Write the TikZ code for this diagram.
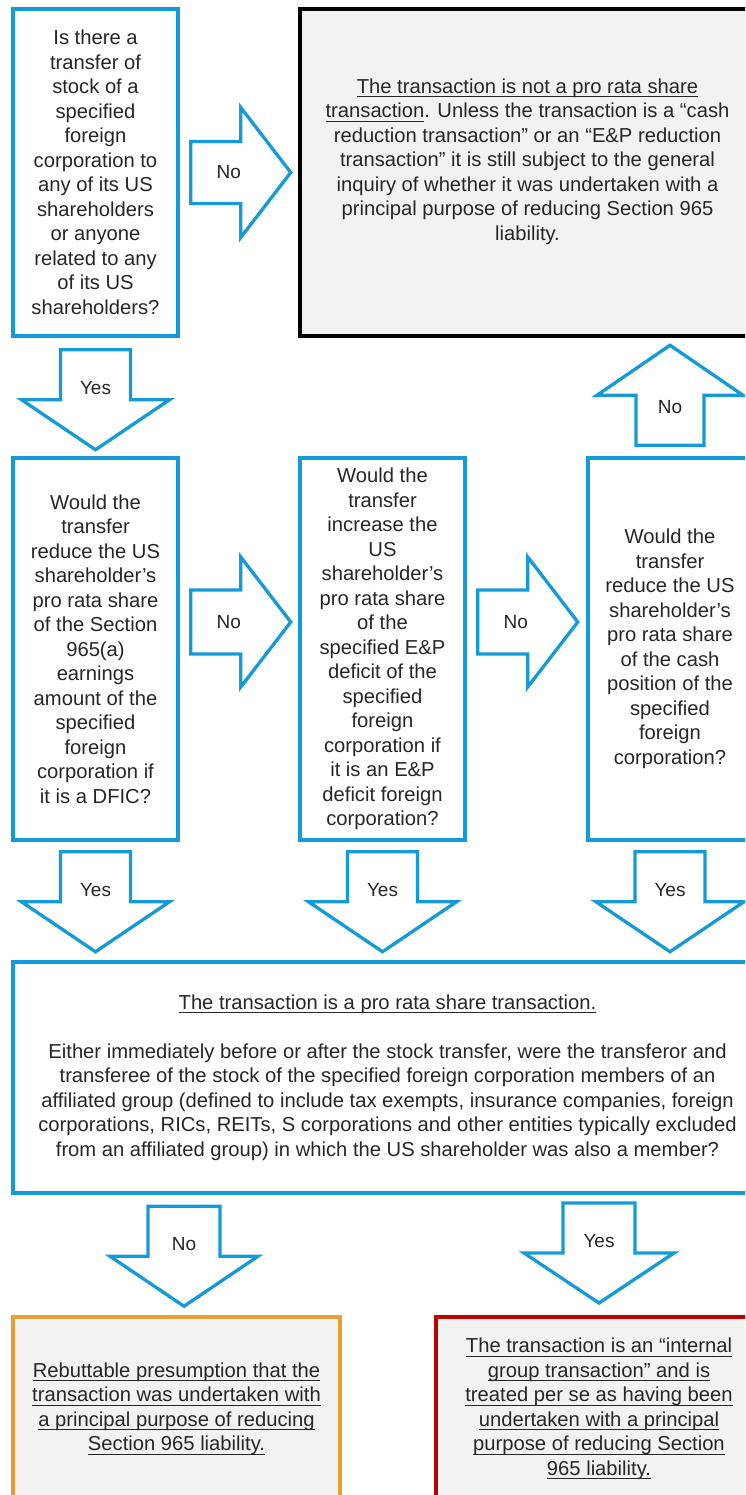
\documentclass[tikz,border=0pt]{standalone}
\usepackage{fontspec}
\setmainfont{Liberation Sans}
\usetikzlibrary{calc}

\definecolor{flowblue}{RGB}{20,155,215}
\definecolor{boxgray}{RGB}{242,242,242}
\definecolor{inkgray}{RGB}{38,38,38}
\definecolor{amber}{RGB}{230,160,50}
\definecolor{darkred}{RGB}{192,0,0}

% underline set just below the baseline, crossing the descenders
\newsavebox{\ulinebox}
\newcommand{\uln}[1]{\sbox{\ulinebox}{#1}\rlap{\rule[-4pt]{\wd\ulinebox}{1pt}}\usebox{\ulinebox}}

\newcommand{\bodyfont}{\fontsize{20.2}{24.5}\selectfont}
\newcommand{\tagfont}{\fontsize{19}{22}\selectfont}

% block arrow: name, start point, direction angle, half tail width, half head width, label
\newcommand{\flowarrow}[6]{%
  \begin{scope}[shift={#2},rotate=#3]
    \draw[arrowline] (0,-#4) -- (50,-#4) -- (50,-#5) -- (100,0) -- (50,#5) -- (50,#4) -- (0,#4) -- cycle;
    \node[arrowlabel] (#1) at (38,0) {#6};
  \end{scope}}

\tikzset{
  qbox/.style={draw=flowblue, line width=3.5pt, fill=white, align=center,
    inner sep=0pt, text=inkgray, font=\bodyfont},
  outbox/.style={line width=3.5pt, fill=boxgray, align=center,
    inner sep=0pt, text=inkgray, font=\bodyfont},
  plaintext/.style={align=center, inner sep=0pt, text=inkgray, font=\bodyfont},
  arrowline/.style={draw=flowblue, line width=3.3pt, fill=white, miter limit=10},
  arrowlabel/.style={inner sep=0pt, text=inkgray, font=\tagfont},
}

\begin{document}
\begin{tikzpicture}[x=1pt,y=-1pt]
\useasboundingbox (0,0) rectangle (745,1495);
\clip (0,0) rectangle (745,1495);

% first question and the negative outcome
\node[qbox, minimum width=165, minimum height=327] (q1) at (95.5,172.5)
  {Is there a\\transfer of\\stock of a\\specified\\foreign\\corporation to\\any of its US\\shareholders\\or anyone\\related to any\\of its US\\shareholders?};
\node[outbox, draw=black, line width=4.5pt, minimum width=455, minimum height=327] (r1) at (527.5,172.5) {};
\node[plaintext] (r1t) at (527.5,161.5)
  {\uln{The transaction is not a pro rata share}\\
   \uln{transaction}. Unless the transaction is a “cash\\
   reduction transaction” or an “E\&P reduction\\
   transaction” it is still subject to the general\\
   inquiry of whether it was undertaken with a\\
   principal purpose of reducing Section 965\\
   liability.};

% second row of questions
\node[qbox, minimum width=165, minimum height=382] (q2) at (95.5,649)
  {Would the\\transfer\\reduce the US\\shareholder’s\\pro rata share\\of the Section\\965(a)\\earnings\\amount of the\\specified\\foreign\\corporation if\\it is a DFIC?};
\node[qbox, minimum width=165, minimum height=382] (q3) at (382.5,649)
  {Would the\\transfer\\increase the\\US\\shareholder’s\\pro rata share\\of the\\specified E\&P\\deficit of the\\specified\\foreign\\corporation if\\it is an E\&P\\deficit foreign\\corporation?};
\node[qbox, minimum width=164, minimum height=382] (q4) at (670,649)
  {Would the\\transfer\\reduce the US\\shareholder’s\\pro rata share\\of the cash\\position of the\\specified\\foreign\\corporation?};

% pro rata share transaction
\node[qbox, minimum width=749, minimum height=231] (pr) at (387.5,1077.5)
  {\uln{The transaction is a pro rata share transaction.}\\[24.5pt]
   Either immediately before or after the stock transfer, were the transferor and\\
   transferee of the stock of the specified foreign corporation members of an\\
   affiliated group (defined to include tax exempts, insurance companies, foreign\\
   corporations, RICs, REITs, S corporations and other entities typically excluded\\
   from an affiliated group) in which the US shareholder was also a member?};

% final outcomes
\node[outbox, draw=amber, minimum width=327, minimum height=184] (rb) at (176.5,1409)
  {\uln{Rebuttable presumption that the}\\
   \uln{transaction was undertaken with}\\
   \uln{a principal purpose of reducing}\\
   \uln{Section 965 liability.}};
\node[outbox, draw=darkred, line width=4pt, minimum width=326, minimum height=184] (ig) at (599,1409)
  {\uln{The transaction is an “internal}\\
   \uln{group transaction” and is}\\
   \uln{treated per se as having been}\\
   \uln{undertaken with a principal}\\
   \uln{purpose of reducing Section}\\
   \uln{965 liability.}};

% decision arrows
\flowarrow{n1}{($(q1.east)+(11,0)$)}{0}{31}{65}{No}
\flowarrow{y1}{($(q1.south)+(0,12)$)}{-90}{35}{74}{Yes}
\flowarrow{n2}{($(q2.east)+(11,-27)$)}{0}{32}{65}{No}
\flowarrow{n3}{($(q3.east)+(11,-27)$)}{0}{32}{65}{No}
\flowarrow{n4}{($(q4.north)+(0,-11)$)}{90}{34}{73}{No}
\flowarrow{y2}{($(q2.south)+(0,10)$)}{-90}{35}{74}{Yes}
\flowarrow{y3}{($(q3.south)+(0,10)$)}{-90}{35}{74}{Yes}
\flowarrow{y4}{($(q4.south)+(0,10)$)}{-90}{35}{74}{Yes}
\flowarrow{n5}{($(rb.north)+(7.5,-109)$)}{-90}{36}{74}{No}
\flowarrow{y5}{($(ig.north)+(0,-112)$)}{-90}{36}{75}{Yes}
\end{tikzpicture}
\end{document}
